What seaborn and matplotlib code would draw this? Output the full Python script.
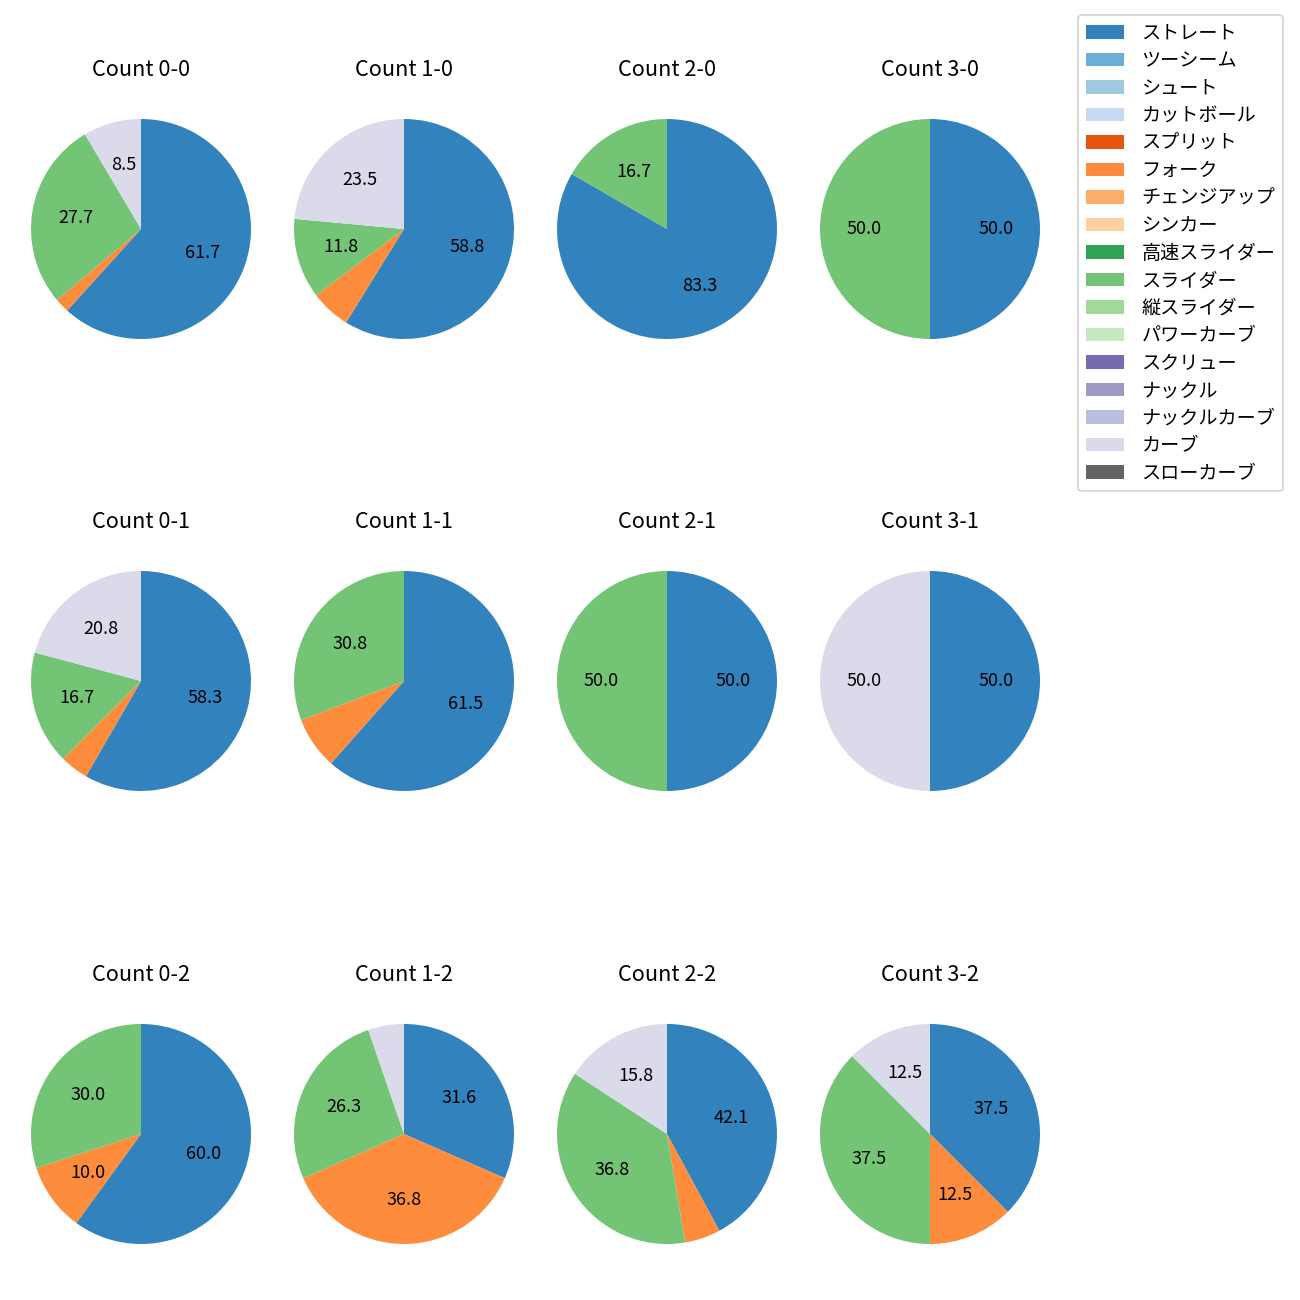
#!/usr/bin/env python3
"""Pitch mix by count: 3x4 grid of pies with a shared legend."""
import matplotlib

matplotlib.use("Agg")

import matplotlib.pyplot as plt
import pandas as pd
import seaborn as sns
from matplotlib.patches import Patch

PITCH_TYPES = [
    "ストレート", "ツーシーム", "シュート", "カットボール", "スプリット", "フォーク",
    "チェンジアップ", "シンカー", "高速スライダー", "スライダー", "縦スライダー",
    "パワーカーブ", "スクリュー", "ナックル", "ナックルカーブ", "カーブ", "スローカーブ",
]

COUNTS = ["0-0", "1-0", "2-0", "3-0",
          "0-1", "1-1", "2-1", "3-1",
          "0-2", "1-2", "2-2", "3-2"]

# pitches thrown per count
STRAIGHT = [29, 10, 5, 1, 14, 8, 1, 1, 6, 6, 8, 3]
FORK = [1, 1, 0, 0, 1, 1, 0, 0, 1, 7, 1, 1]
SLIDER = [13, 2, 1, 1, 4, 4, 1, 0, 3, 5, 7, 3]
CURVE = [4, 4, 0, 0, 5, 0, 0, 1, 0, 1, 3, 1]

# pie centres in pixels (figure is 1300x1300)
COL_X = [141, 404, 667, 930]
ROW_Y = [229, 681, 1134]
PIE_BOX = 275


def pct_label(p: float) -> str:
    return f"{p:.1f}" if p >= 8 else ""


def main() -> None:
    sns.set_style("white")
    plt.rcParams["font.family"] = ["Noto Sans CJK JP", "DejaVu Sans"]
    plt.rcParams["text.color"] = "black"

    palette = sns.color_palette("tab20c", 20)[: len(PITCH_TYPES)]
    df = pd.DataFrame(
        {"ストレート": STRAIGHT, "フォーク": FORK, "スライダー": SLIDER, "カーブ": CURVE},
        index=COUNTS,
    ).reindex(columns=PITCH_TYPES, fill_value=0)

    fig, axes = plt.subplots(3, 4, figsize=(10, 10), dpi=130)
    W = H = 1300
    for i, count in enumerate(COUNTS):
        r, c = divmod(i, 4)
        ax = axes[r, c]
        row = df.loc[count]
        keep = row > 0
        cols = [palette[j] for j, k in enumerate(keep) if k]
        ax.pie(row[keep].values, colors=cols, startangle=90, counterclock=False,
               autopct=pct_label, pctdistance=0.6,
               wedgeprops={"linewidth": 0}, textprops={"color": "black"})
        ax.set_title(f"Count {count}", fontsize=12, pad=8.8)
        cx, cy = COL_X[c], ROW_Y[r]
        ax.set_position([(cx - PIE_BOX / 2) / W, (H - cy - PIE_BOX / 2) / H,
                         PIE_BOX / W, PIE_BOX / H])

    handles = [Patch(facecolor=col, linewidth=0) for col in palette]
    fig.legend(handles, PITCH_TYPES, loc="upper right",
               bbox_to_anchor=(1283 / W, 1 - 15 / H), borderaxespad=0,
               fontsize=10.6, labelspacing=0.34, handletextpad=0.9)

    fig.savefig("out.png", dpi=130)


if __name__ == "__main__":
    main()
